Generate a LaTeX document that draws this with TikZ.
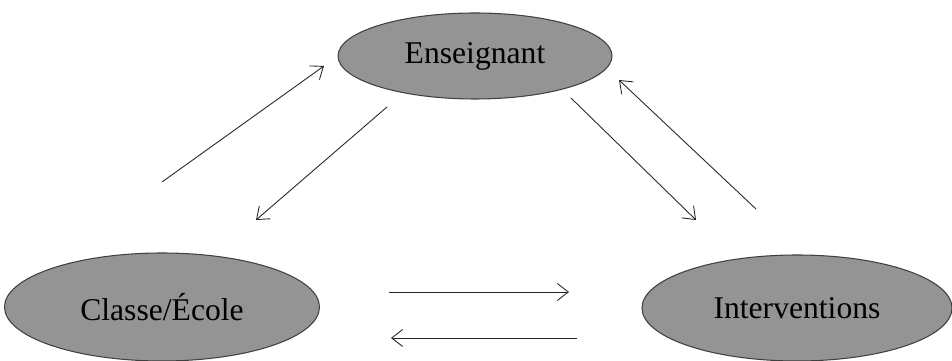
\documentclass[tikz,border=0pt]{standalone}
\usepackage{fontspec}
\setmainfont{Liberation Serif}
\usepackage{xcolor}
\usepackage{tikz}
\usetikzlibrary{arrows.meta, positioning, calc, shapes.geometric}
\tikzset{
  pole/.style={draw=black!75, ellipse, fill=black!42, line width=0.6pt, inner sep=0pt, font=\fontsize{18}{20}\selectfont},
  flow/.style={-{Straight Barb[length=2.2mm, width=3.4mm]}, line width=0.5pt, draw=black!85}
}

\begin{document}
\begin{tikzpicture}
        \useasboundingbox (0,0) rectangle (19.04,7.22);

        % Poles
        \node[pole, minimum width=5.48cm, minimum height=1.72cm] (ens) at (9.50,6.10) {Enseignant};
        \node[pole, minimum width=6.30cm, minimum height=2.16cm] (classe) at (3.24,1.08) {Classe/École};
        \node[pole, minimum width=6.20cm, minimum height=2.12cm] (interv) at (15.94,1.06) {Interventions};

        % Arrow ends
        \coordinate (ce1) at (3.24,3.58);  \coordinate (ce2) at (6.48,5.90);
        \coordinate (ec1) at (7.74,5.08);  \coordinate (ec2) at (5.12,2.82);
        \coordinate (ei1) at (11.42,5.26); \coordinate (ei2) at (13.92,2.82);
        \coordinate (ie1) at (15.12,3.04); \coordinate (ie2) at (12.38,5.62);
        \coordinate (ci1) at (7.78,1.38);  \coordinate (ci2) at (11.38,1.38);
        \coordinate (ic1) at (11.54,0.46); \coordinate (ic2) at (7.82,0.46);

        % Links
        \draw[flow] (ce1) -- (ce2);
        \draw[flow] (ec1) -- (ec2);

        \draw[flow] (ei1) -- (ei2);
        \draw[flow] (ie1) -- (ie2);

        \draw[flow] (ci1) -- (ci2);
        \draw[flow] (ic1) -- (ic2);
    \end{tikzpicture}
\end{document}
